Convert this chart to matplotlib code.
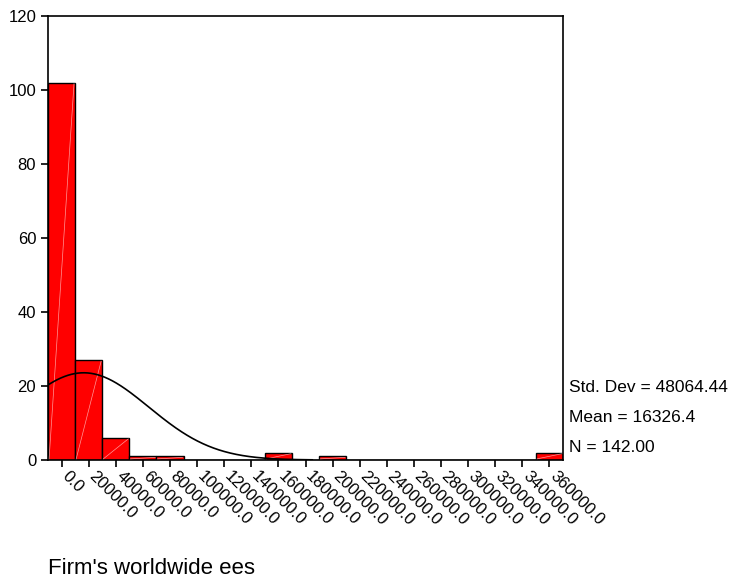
import numpy as np
import matplotlib
matplotlib.use("Agg")
from matplotlib import pyplot as plt
from matplotlib.transforms import ScaledTranslation

plt.rcParams["font.family"] = ["Liberation Sans", "DejaVu Sans"]

# histogram bins (centres) and counts
bin_centres = [0, 20000, 40000, 60000, 80000, 100000, 120000, 140000, 160000,
               180000, 200000, 220000, 240000, 260000, 280000, 300000, 320000,
               340000, 360000]
counts = [102, 27, 6, 1, 1, 0, 0, 0, 2, 0, 1, 0, 0, 0, 0, 0, 0, 0, 2]
bin_width = 20000

std_dev = 48064.44
mean = 16326.4
n = 142.00

fig = plt.figure(figsize=(7.3, 5.82), dpi=100)
ax = fig.add_axes([48 / 730, 1 - 460 / 582, 515 / 730, 444 / 582])

ax.bar(bin_centres, counts, width=bin_width, color="#ff0000",
       edgecolor="black", linewidth=1.0, zorder=2)

# thin white diagonals inside each bar
for c, h in zip(bin_centres, counts):
    if h > 0:
        ax.plot([c - bin_width / 2 + 800, c + bin_width / 2 - 800], [0.3, h - 0.3],
                color="white", lw=0.5, alpha=0.6, zorder=3)

# normal curve from the sample stats
xs = np.linspace(-10000, 185000, 400)
ys = n * bin_width / (std_dev * np.sqrt(2 * np.pi)) * np.exp(-0.5 * ((xs - mean) / std_dev) ** 2)
ax.plot(xs, ys, color="black", lw=1.2, zorder=4)

ax.set_xlim(-10000, 370000)
ax.set_ylim(0, 120)
ax.set_yticks(range(0, 121, 20))
ax.set_xticks(bin_centres)
ax.set_xticklabels([])

# slanted tick labels, nudged right of each tick
lbl_trans = ax.get_xaxis_transform() + ScaledTranslation(8 / 100, -9 / 100, fig.dpi_scale_trans)
for v in bin_centres:
    ax.text(v, 0, f"{v:.1f}", transform=lbl_trans, rotation=-45,
            ha="left", va="top", rotation_mode="anchor", fontsize=12, clip_on=False)

ax.tick_params(axis="y", labelsize=12, length=5, width=1.2, direction="out")
ax.tick_params(axis="x", length=5, width=1.2, direction="out")
for s in ax.spines.values():
    s.set_linewidth(1.2)

fig.text(569 / 730, 1 - 387 / 582, "Std. Dev = 48064.44", fontsize=12.5, va="center")
fig.text(569 / 730, 1 - 417 / 582, "Mean = 16326.4", fontsize=12.5, va="center")
fig.text(569 / 730, 1 - 447 / 582, "N = 142.00", fontsize=12.5, va="center")
fig.text(48 / 730, 1 - 568 / 582, "Firm's worldwide ees", fontsize=16, va="center")

fig.savefig("out.png", dpi=100)
